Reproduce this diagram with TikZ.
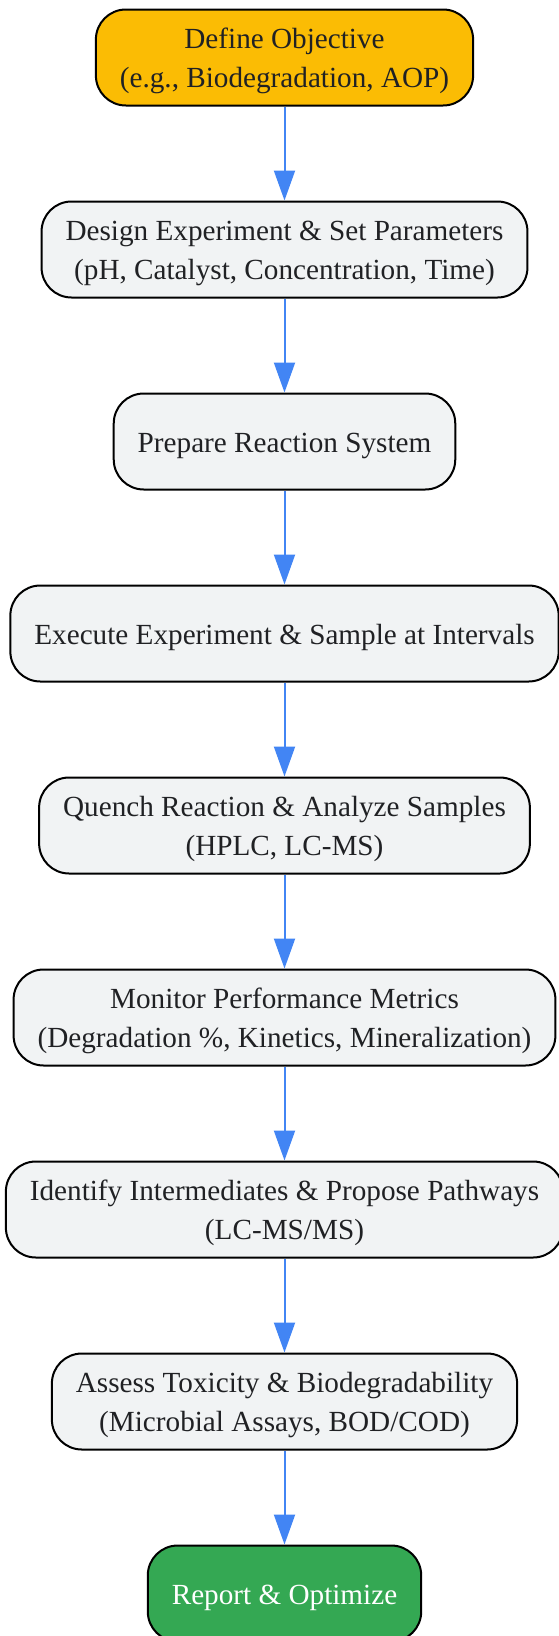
\documentclass[tikz,border=0pt]{standalone}
\usepackage{fontspec}
\setmainfont{Liberation Serif}
\usetikzlibrary{positioning,arrows.meta}
\definecolor{startyellow}{HTML}{FBBC04}
\definecolor{boxgrey}{HTML}{F1F3F4}
\definecolor{endgreen}{HTML}{34A853}
\definecolor{flowblue}{HTML}{4285F4}
\definecolor{textgrey}{HTML}{202124}

\begin{document}
\begin{tikzpicture}[x=1pt, y=-1pt,
    process/.style={draw=black, line width=2pt, rounded corners=30pt, fill=boxgrey,
        text=textgrey, align=center, minimum height=96pt, inner xsep=24pt, inner ysep=4pt,
        text height=66pt, font=\fontsize{29.2}{38.5}\selectfont},
    oneline/.style={text height=28pt},
    flow/.style={draw=flowblue, line width=2pt, -{Triangle[width=21pt,length=30pt]}},
    node distance=94pt]
    \useasboundingbox (0,0) rectangle (559,1636);
    % steps, top to bottom
    \node[process, fill=startyellow] (objective) at (284.5,57.5) {Define Objective\\(e.g., Biodegradation, AOP)};
    \node[process, below=of objective] (design) {Design Experiment \& Set Parameters\\(pH, Catalyst, Concentration, Time)};
    \node[process, oneline, below=of design] (prepare) {Prepare Reaction System};
    \node[process, oneline, below=of prepare] (execute) {Execute Experiment \& Sample at Intervals};
    \node[process, below=of execute] (quench) {Quench Reaction \& Analyze Samples\\(HPLC, LC-MS)};
    \node[process, below=of quench] (monitor) {Monitor Performance Metrics\\(Degradation \%, Kinetics, Mineralization)};
    \node[process, below=of monitor] (identify) {Identify Intermediates \& Propose Pathways\\(LC-MS/MS)};
    \node[process, below=of identify] (assess) {Assess Toxicity \& Biodegradability\\(Microbial Assays, BOD/COD)};
    \node[process, oneline, below=of assess, fill=endgreen, text=white] (report) {Report \& Optimize};
    % connectors
    \draw[flow] (objective) -- (design);
    \draw[flow] (design) -- (prepare);
    \draw[flow] (prepare) -- (execute);
    \draw[flow] (execute) -- (quench);
    \draw[flow] (quench) -- (monitor);
    \draw[flow] (monitor) -- (identify);
    \draw[flow] (identify) -- (assess);
    \draw[flow] (assess) -- (report);
\end{tikzpicture}
\end{document}
